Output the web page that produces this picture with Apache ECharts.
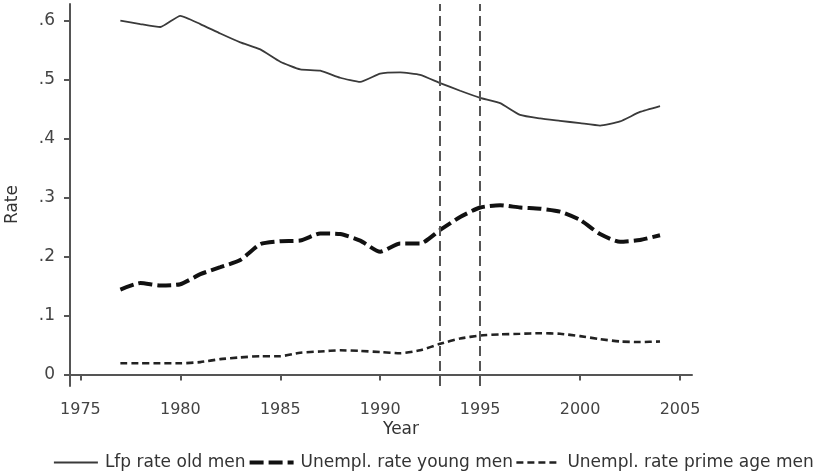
<!DOCTYPE html>
<html>
<head>
<meta charset="utf-8">
<script src="https://cdn.jsdelivr.net/npm/echarts@6/dist/echarts.min.js"></script>
<style>
  html, body { margin: 0; padding: 0; background: #fff; }
  #chart { width: 818px; height: 476px; }
</style>
</head>
<body>
<div id="chart"></div>
<script>
// Labour-market rates by year, 1977-2004
const years = [1977, 1978, 1979, 1980, 1981, 1982, 1983, 1984, 1985, 1986, 1987, 1988, 1989, 1990,
               1991, 1992, 1993, 1994, 1995, 1996, 1997, 1998, 1999, 2000, 2001, 2002, 2003, 2004];
const lfpOldMen = [0.600, 0.594, 0.589, 0.608, 0.594, 0.578, 0.563, 0.551, 0.530, 0.517, 0.515, 0.503, 0.496, 0.510,
                   0.512, 0.508, 0.494, 0.481, 0.469, 0.460, 0.440, 0.434, 0.430, 0.426, 0.422, 0.429, 0.445, 0.455];
const unemplYoungMen = [0.144, 0.155, 0.151, 0.153, 0.170, 0.182, 0.194, 0.221, 0.226, 0.227, 0.239, 0.238, 0.227, 0.208,
                        0.222, 0.222, 0.245, 0.267, 0.283, 0.287, 0.283, 0.281, 0.276, 0.262, 0.238, 0.225, 0.228, 0.236];
const unemplPrimeAgeMen = [0.019, 0.019, 0.019, 0.019, 0.021, 0.026, 0.029, 0.031, 0.031, 0.037, 0.039, 0.041, 0.040, 0.038,
                           0.036, 0.041, 0.052, 0.061, 0.066, 0.068, 0.069, 0.070, 0.069, 0.065, 0.060, 0.056, 0.055, 0.056];
const seriesNames = ['Lfp rate old men', 'Unempl. rate young men', 'Unempl. rate prime age men'];
const xTicks = [1975, 1980, 1985, 1990, 1995, 2000, 2005];
const yTicks = [0, 0.1, 0.2, 0.3, 0.4, 0.5, 0.6];
const referenceYears = [1993, 1995];

const FONT = 'DejaVu Sans';
const AXIS = '#555';

const pairs = vals => years.map((y, i) => [y, vals[i]]);

// line styles shared by each series and its legend key
const styles = [
  { color: '#3a3a3a', width: 1.8, type: 'solid' },
  { color: '#111', width: 4, type: [14, 5] },
  { color: '#222', width: 2.6, type: [7, 4] }
];

const chart = echarts.init(document.getElementById('chart'), null, { renderer: 'canvas' });
chart.setOption({
  animation: false,
  backgroundColor: '#fff',
  grid: { left: 70, right: 126, top: 4, bottom: 90 },
  xAxis: {
    type: 'value',
    min: 1974.48,
    max: 2005.6,
    splitLine: { show: false },
    axisLine: { show: true, lineStyle: { color: AXIS, width: 2 } },
    axisTick: { show: true, customValues: xTicks, length: 6, lineStyle: { color: AXIS, width: 2 } },
    axisLabel: {
      customValues: xTicks, margin: 16, color: '#444',
      fontFamily: FONT, fontSize: 16, formatter: v => String(Math.round(v))
    }
  },
  yAxis: {
    type: 'value',
    min: -0.0195,
    max: 0.628,
    splitLine: { show: false },
    axisLine: { show: true, lineStyle: { color: AXIS, width: 2 } },
    axisTick: { show: true, customValues: yTicks, length: 6, lineStyle: { color: AXIS, width: 2 } },
    axisLabel: {
      customValues: yTicks, margin: 15, color: '#444',
      fontFamily: FONT, fontSize: 17,
      formatter: v => (Math.abs(v) < 1e-9 ? '0' : '.' + Math.round(v * 10))
    }
  },
  legend: {
    type: 'plain',
    orient: 'horizontal',
    left: 48,
    top: 449,
    width: 1200,
    itemGap: 2,
    itemWidth: 44,
    itemHeight: 14,
    itemStyle: { opacity: 0 },
    textStyle: { fontFamily: FONT, fontSize: 17, color: '#333', padding: [0, 0, 0, 2] },
    data: seriesNames.map((name, i) => ({ name, lineStyle: styles[i] }))
  },
  graphic: [
    { type: 'text', left: 383, top: 421,
      style: { text: 'Year', fontFamily: FONT, fontSize: 17, fill: '#333' } },
    { type: 'text', x: 4, y: 224, rotation: Math.PI / 2,
      style: { text: 'Rate', fontFamily: FONT, fontSize: 17, fill: '#333' } }
  ],
  series: [
    {
      name: seriesNames[0], type: 'line', data: pairs(lfpOldMen),
      symbol: 'none', smooth: 0.15,
      lineStyle: styles[0],
      itemStyle: { color: styles[0].color },
      markLine: {
        silent: true, symbol: 'none', label: { show: false },
        lineStyle: { color: '#555', width: 2, type: [10, 5] },
        data: referenceYears.map(y => ({ xAxis: y }))
      }
    },
    {
      name: seriesNames[1], type: 'line', data: pairs(unemplYoungMen),
      symbol: 'none', smooth: 0.2,
      lineStyle: styles[1],
      itemStyle: { color: styles[1].color }
    },
    {
      name: seriesNames[2], type: 'line', data: pairs(unemplPrimeAgeMen),
      symbol: 'none', smooth: 0.2,
      lineStyle: styles[2],
      itemStyle: { color: styles[2].color }
    }
  ]
});
</script>
</body>
</html>
